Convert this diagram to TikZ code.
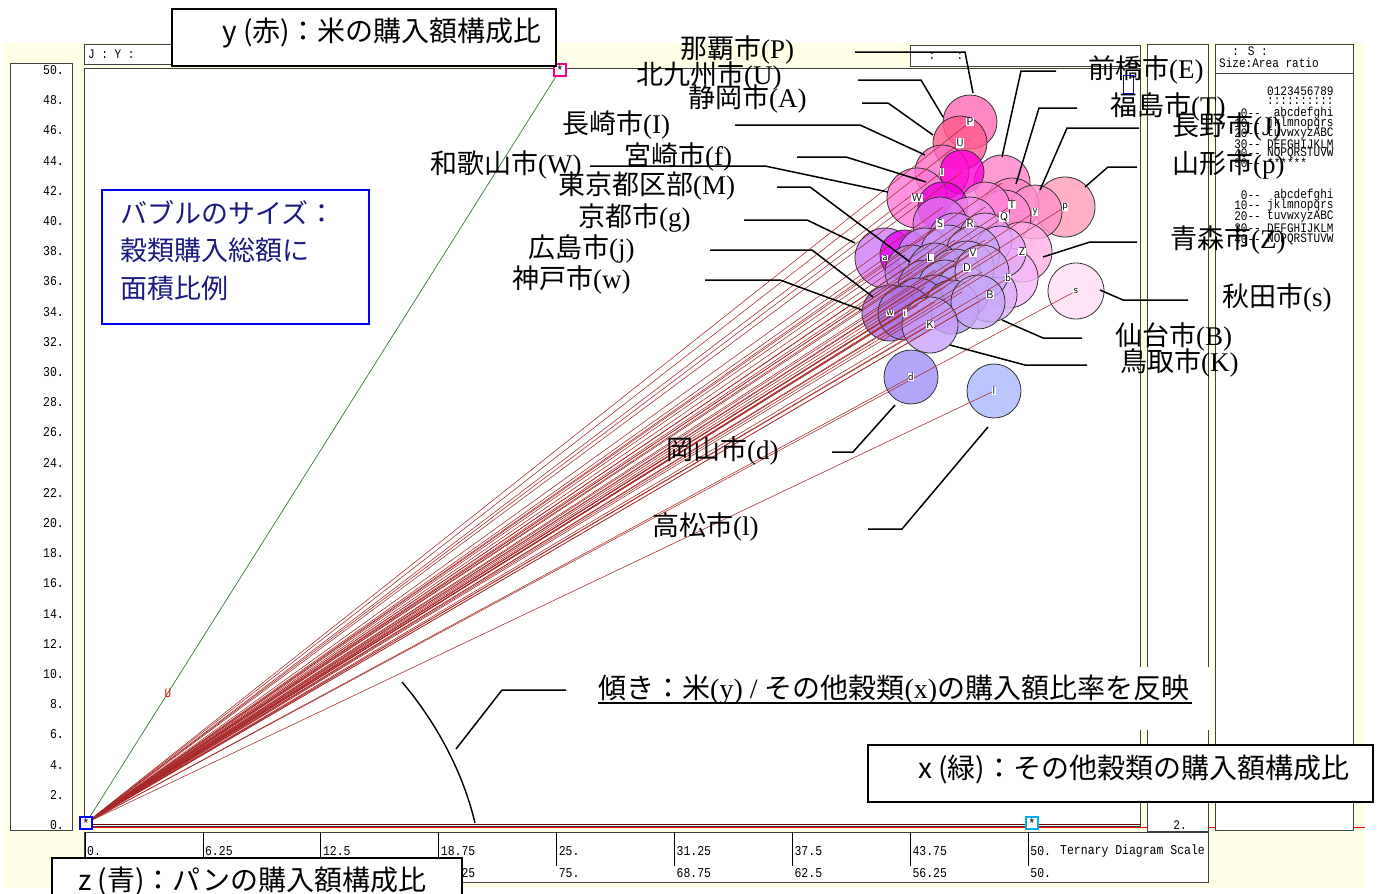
\documentclass[tikz,border=0pt]{standalone}
\usepackage{fontspec}
\setmainfont{Liberation Serif}
\newfontfamily\jp{Noto Sans CJK JP}
\newfontfamily\monof[FakeStretch=0.85]{Liberation Mono}
\definecolor{cream}{HTML}{FFFFE6}
\definecolor{navy}{HTML}{1A1A80}
\definecolor{rline}{HTML}{A82828}
\definecolor{gline}{HTML}{2E7D2E}
\newcommand\cty[2]{{\jp #1}(#2)}
\tikzset{
  leader/.style={black, line width=1.5pt},
  bub/.style={draw=black!80, line width=0.8pt, fill opacity=0.8},
  redline/.style={draw=rline, line width=0.55pt},
  citylbl/.style={anchor=west, inner sep=0pt, font=\fontsize{27}{27}\selectfont},
  boxlbl/.style={anchor=west, inner sep=0pt, font=\jp\fontsize{28}{28}\selectfont},
  ax/.style={inner sep=0pt, font=\monof\fontsize{13.5}{13.5}\selectfont},
  lg/.style={inner sep=0pt, font=\monof\fontsize{13}{13}\selectfont},
  blbl/.style={fill=white, fill opacity=1, text opacity=1, inner sep=0.6pt, font=\sffamily\fontsize{11}{11}\selectfont},
  frame/.style={draw=black!75, fill=white, line width=0.8pt},
  tbox/.style={draw=black, fill=white, line width=1.6pt},
  corner/.style={line width=2.2pt, fill=white, minimum size=12pt, inner sep=0pt, font=\monof\fontsize{14}{14}\selectfont}
}
\begin{document}
\begin{tikzpicture}[x=1pt,y=-1pt]
\useasboundingbox (0,0) rectangle (1379,894);
\fill[white] (0,0) rectangle (1379,894);
\fill[cream] (3,43) rectangle (1365,888);
% left axis
\draw[frame] (10,63) rectangle (72,830);
\begin{scope}
\clip (10,64) rectangle (72,830);
\foreach \v in {0,2,...,50} \node[ax, anchor=east] at (64,{825-\v*15.1}) {\v.};
\end{scope}
% main plot
\draw[frame] (84,68) rectangle (1140,826);
% bottom lines
\draw[red, line width=1pt] (84,827.5) -- (1365,827.5);
\draw[black!60!red, line width=1.2pt] (84,824.5) -- (1140,824.5);
% header boxes
\draw[frame] (84,44) rectangle (330,64);
\node[lg, anchor=west] at (88,54) {J : Y :};
\draw[frame] (910,45) rectangle (1140,66);
\node[lg] (c1) at (932,56) {:};
\node[lg] (c2) at (960,56) {:};
% narrow box and legend
\draw[frame] (1147,44) rectangle (1208,831);
\node[lg] (two) at (1180,825) {2.};
\draw[frame] (1215,44) rectangle (1353,830);
\draw[black!75, line width=0.8pt] (1215,73) -- (1353,73);
\node[lg] (hs) at (1250,51) {: S :};
\node[lg, anchor=west] (ha) at (1219,63) {Size:Area ratio};
\node[lg, anchor=west] (dg) at (1267,91) {0123456789};
\node[lg, anchor=west] (dc) at (1267,101) {::::::::::};
\foreach \yy/\n/\t in {113/0/\phantom{0}abcdefghi,123/10/jklmnopqrs,133/20/tuvwxyzABC,144/30/DEFGHIJKLM,153/40/NOPQRSTUVW,163/50/******,
                       195/0/\phantom{0}abcdefghi,205/10/jklmnopqrs,216/20/tuvwxyzABC,228/30/DEFGHIJKLM,239/40/NOPQRSTUVW}{
  \node[lg, anchor=east] at (1261,\yy) {\n--};
  \node[lg, anchor=west] at (1267,\yy) {\t};
}
% bottom scale box
\draw[frame] (84,832) rectangle (1208,882);
\foreach \i/\a in {0/0.,1/6.25,2/12.5,3/18.75,4/25.,5/31.25,6/37.5,7/43.75,8/50.}{
  \draw[black, line width=0.8pt] ({85+117.9*\i},832) -- ({85+117.9*\i},866);
  \node[ax, anchor=west] at ({87+117.9*\i},851) {\a};
}
\foreach \i/\b in {3/81.25,4/75.,5/68.75,6/62.5,7/56.25,8/50.}{
  \node[ax, anchor=west] at ({87+117.9*\i},873) {\b};
}
\node[ax, anchor=west] (tds) at (1060,851) {Ternary Diagram Scale};
% origin
\coordinate (o) at (86,823);
% bubbles
\foreach \x/\y/\r/\c/\l [count=\k] in {
 970/122/27/FF69B4/P, 960/143/27/FF5A8C/U, 1002/183/28/FF80C8/E, 942/172/27/FF70C8/I,
 917/198/30/FF78D8/W, 962/172/22/FF00D8/{}, 1065/207/30/FF9CB8/p, 1012/205/27/FF88C4/T,
 1035/212/27/FF90CC/y, 1004/217/27/FF8CD4/Q, 985/207/25/FF84D8/n, 943/207/25/F000E0/{},
 970/224/27/F090EC/R, 940/224/27/E070F0/S, 1022/252/30/FFB0E4/Z, 1008/278/30/F4B8FA/b,
 990/295/27/DCB0FA/B, 1076/291/28/FFDCF4/s, 955/240/27/D088F4/{}, 985/240/27/E8A0F4/{},
 1000/252/26/E8A8F8/{}, 885/258/30/D07CF8/a, 905/255/25/E800F0/{}, 925/255/27/C890F8/{},
 948/252/27/C898F8/{}, 973/253/27/C8A0F8/V, 967/268/27/C0A0F8/D, 912/272/27/B890F0/{},
 935/270/27/B890F4/{}, 955/275/26/BC98F4/{}, 925/287/27/B088F0/{}, 945/287/27/B898F0/{},
 962/292/27/C0A0F8/{}, 982/272/27/D0A8F8/{}, 935/302/27/B088EE/{}, 918/305/27/B080F0/{},
 952/307/27/B898F4/{}, 978/302/27/C8A8F8/{}, 890/313/28/B070E8/w, 905/313/27/A878E8/i,
 930/325/28/C8A0F8/{}, 911/377/27/A090F8/d, 994/391/27/AAB8FF/l}{
  \definecolor{bc}{HTML}{\c}
  \coordinate (b\k) at (\x,\y);
  \draw[bub, fill=bc] (b\k) circle (\r pt);
}
% red lines from origin to every bubble centre
\foreach \k in {1,...,43} \draw[redline] (o) -- (b\k);
% bubble letters
\foreach \x/\y/\l in {970/122/P, 960/143/U, 942/172/I, 917/198/W, 1065/207/p, 1012/205/T,
 1035/212/y, 1004/217/Q, 970/224/R, 940/224/S, 1022/252/Z, 1008/278/b, 990/295/B, 1076/291/s,
 885/258/a, 973/253/V, 967/268/D, 930/258/L, 890/313/w, 905/313/i, 930/325/K, 911/377/d, 994/391/l}{
  \node[blbl] at (\x,\y) {\l};
}
% ternary corner lines and markers
\coordinate (ytop) at (560,70);
\draw[gline, line width=0.7pt] (o) -- (ytop);
\node[red, font=\monof\fontsize{13}{13}\selectfont, inner sep=0pt] (ulab) at (168,693) {U};
\node[corner, draw=blue] (zm) at (86,823) {*};
\node[corner, draw=magenta] (ym) at (560,70) {*};
\node[corner, draw=cyan] (xm) at (1032,823) {*};
\draw[blue, line width=0.8pt] (1123,75) rectangle (1133,93);
% leader lines
\draw[leader] (855,52) -- (965,52) -- (973,93);
\draw[leader] (858,80) -- (921,80) -- (943,117);
\draw[leader] (862,103) -- (888,103) -- (933,135);
\draw[leader] (735,125) -- (860,125) -- (925,155);
\draw[leader] (797,157) -- (846,157) -- (926,182);
\draw[leader] (590,166) -- (765,166) -- (888,192);
\draw[leader] (777,187) -- (810,187) -- (910,262);
\draw[leader] (744,220) -- (807,220) -- (855,243);
\draw[leader] (710,250) -- (812,250) -- (873,297);
\draw[leader] (705,280) -- (780,280) -- (862,310);
\draw[leader] (1056,71) -- (1021,71) -- (1002,157);
\draw[leader] (1077,108) -- (1039,108) -- (1016,184);
\draw[leader] (1139,128) -- (1067,128) -- (1040,190);
\draw[leader] (1137,167) -- (1108,167) -- (1085,187);
\draw[leader] (1137,242) -- (1090,242) -- (1043,257);
\draw[leader] (1188,300) -- (1123,300) -- (1100,290);
\draw[leader] (1082,338) -- (1043,338) -- (1002,320);
\draw[leader] (1087,365) -- (1025,365) -- (950,345);
\draw[leader] (832,452) -- (853,452) -- (895,405);
\draw[leader] (868,529) -- (902,529) -- (988,427);
% city labels
\node[citylbl] (nP) at (680,50) {\cty{那覇市}{P}};
\node[citylbl] (nU) at (636,76) {\cty{北九州市}{U}};
\node[citylbl] (nA) at (688,99) {\cty{静岡市}{A}};
\node[citylbl] (nI) at (562,125) {\cty{長崎市}{I}};
\node[citylbl] (nf) at (624,157) {\cty{宮崎市}{f}};
\node[citylbl] (nW) at (430,165) {\cty{和歌山市}{W}};
\node[citylbl] (nM) at (558,186) {\cty{東京都区部}{M}};
\node[citylbl] (ng) at (578,218) {\cty{京都市}{g}};
\node[citylbl] (nj) at (528,249) {\cty{広島市}{j}};
\node[citylbl] (nw) at (512,280) {\cty{神戸市}{w}};
\node[citylbl] (nE) at (1088,70) {\cty{前橋市}{E}};
\node[citylbl] (nT) at (1110,107) {\cty{福島市}{T}};
\node[citylbl] (nJ) at (1172,127) {\cty{長野市}{J}};
\node[citylbl] (np) at (1172,165) {\cty{山形市}{p}};
\node[citylbl] (nZ) at (1170,240) {\cty{青森市}{Z}};
\node[citylbl] (ns) at (1222,298) {\cty{秋田市}{s}};
\node[citylbl] (nB) at (1115,337) {\cty{仙台市}{B}};
\node[citylbl] (nK) at (1120,363) {\cty{鳥取市}{K}};
\node[citylbl] (nd) at (666,451) {\cty{岡山市}{d}};
\node[citylbl] (nl) at (652,527) {\cty{高松市}{l}};
% slope annotation
\fill[white] (590,667) rectangle (1211,730);
\node[citylbl, font=\fontsize{28}{28}\selectfont] (slope) at (598,690) {{\jp 傾き：米}(y) / {\jp その他穀類}(x){\jp の購入額比率を反映}};
\draw[black, line width=1.6pt] (598,703) -- (1192,703);
\draw[leader] (566,690) -- (502,690) -- (456,749);
\draw[black, line width=1.4pt] (402,682) .. controls (436,722) and (463,772) .. (475,823);
% bubble size box
\node[draw=blue, line width=1.6pt, fill=white, minimum width=267pt, minimum height=134pt, inner sep=0pt] (sz) at (235.5,257) {};
\node[boxlbl, font=\jp\fontsize{27}{27}\selectfont, text=navy] at (120,213) {バブルのサイズ：};
\node[boxlbl, font=\jp\fontsize{27}{27}\selectfont, text=navy] at (120,250) {穀類購入総額に};
\node[boxlbl, font=\jp\fontsize{27}{27}\selectfont, text=navy] at (120,288) {面積比例};
% ternary axis boxes
\draw[tbox] (172,9) rectangle (556,66);
\node[boxlbl] (ylab) at (222,33) {y (赤)：米の購入額構成比};
\draw[tbox] (868,745) rectangle (1373,802);
\node[boxlbl] (xlab) at (918,769) {x (緑)：その他穀類の購入額構成比};
\draw[tbox] (52,858) rectangle (462,900);
\node[boxlbl] (zlab) at (78,881) {z (青)：パンの購入額構成比};
\end{tikzpicture}
\end{document}
